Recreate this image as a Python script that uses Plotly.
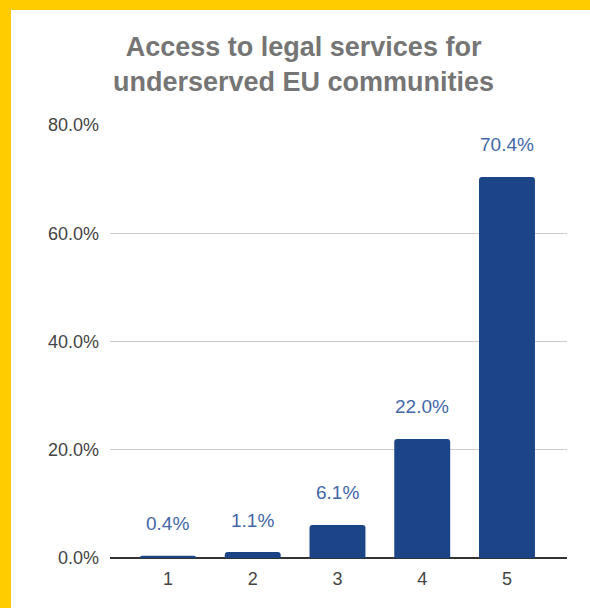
import plotly.graph_objects as go

categories = ["1", "2", "3", "4", "5"]
values = [0.4, 1.1, 6.1, 22.0, 70.4]
labels = ["0.4%", "1.1%", "6.1%", "22.0%", "70.4%"]
y_ticks = [0, 20, 40, 60, 80]
y_tick_text = ["0.0%", "20.0%", "40.0%", "60.0%", "80.0%"]
title_text = "Access to legal services for<br>underserved EU communities"

W, H = 590, 608
ml, mr, mt, mb = 110, 23, 125, 50
pw, ph = W - ml - mr, H - mt - mb
FONT = "Liberation Sans, Arial"

fig = go.Figure()
fig.add_trace(go.Bar(
    x=list(range(len(categories))), y=values,
    marker=dict(color="#1c4587", line=dict(width=0)),
    width=0.66, hoverinfo="skip",
))
for i, (v, t) in enumerate(zip(values, labels)):
    fig.add_annotation(x=i, y=v, text=t, showarrow=False, yshift=32,
                       yanchor="middle", xanchor="center",
                       font=dict(family=FONT, size=19, color="#4267a8"))

# title
fig.add_annotation(xref="paper", yref="paper",
                   x=(303 - ml) / pw, y=(H - mb - 64) / ph,
                   text=title_text, showarrow=False, xanchor="center", yanchor="middle",
                   borderpad=0,
                   font=dict(family=FONT, size=27, color="#757575", weight="bold"))

# yellow frame (left and top)
fig.add_shape(type="rect", xref="paper", yref="paper",
              x0=-ml / pw, x1=(11 - ml) / pw, y0=-mb / ph, y1=(H - mb) / ph,
              fillcolor="#ffcc00", line=dict(width=0), layer="above")
fig.add_shape(type="rect", xref="paper", yref="paper",
              x0=-ml / pw, x1=(W - ml) / pw, y0=(H - mb - 10) / ph, y1=(H - mb) / ph,
              fillcolor="#ffcc00", line=dict(width=0), layer="above")

fig.update_layout(
    width=W, height=H,
    margin=dict(l=ml, r=mr, t=mt, b=mb, pad=0),
    paper_bgcolor="white", plot_bgcolor="white",
    barcornerradius=3,
    showlegend=False,
    xaxis=dict(tickmode="array", tickvals=list(range(len(categories))), ticktext=categories,
               range=[-0.684, 4.708], showgrid=False, zeroline=False, showline=False,
               ticks="", ticklabelstandoff=8,
               tickfont=dict(family=FONT, size=18, color="#444444"),
               fixedrange=True),
    yaxis=dict(tickmode="array", tickvals=y_ticks, ticktext=y_tick_text, range=[0, 80],
               showgrid=True, gridcolor="#cccccc", gridwidth=1, zeroline=True,
               zerolinecolor="#333333", zerolinewidth=1.5, ticks="", ticklabelstandoff=10,
               tickfont=dict(family=FONT, size=18, color="#444444"),
               fixedrange=True),
)
fig.write_html("out.html")
